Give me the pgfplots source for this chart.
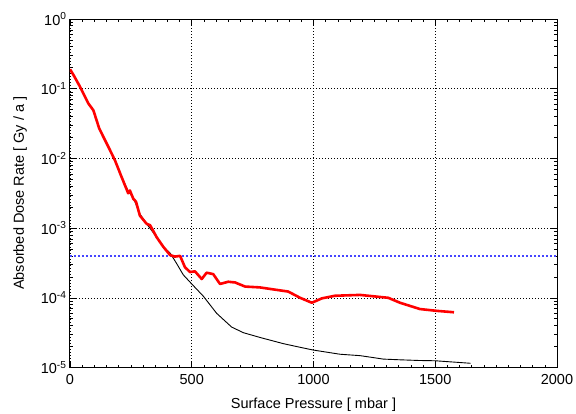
\documentclass[border=0pt]{standalone}
\usepackage{fontspec}
\setmainfont{Liberation Sans}
\usepackage{pgfplots}
\pgfplotsset{compat=1.18}

\begin{document}
\begin{tikzpicture}
\begin{axis}[
  scale only axis, width=487pt, height=348.5pt,
  ymode=log, xmin=0, xmax=2000, ymin=1e-5, ymax=1,
  xtick={0,500,1000,1500,2000}, minor x tick num=9,
  ytick={1e-5,1e-4,1e-3,1e-2,1e-1,1},
  tick align=inside, ticks=both,
  major tick length=6pt, minor tick length=3pt,
  grid=major, major grid style={black, line width=0.6pt, dash pattern=on 0.9pt off 2.1pt},
  axis line style={line width=1pt},
  every tick/.style={black, line width=0.6pt},
  tick label style={font=\fontsize{14.5}{16}\selectfont},
  xticklabel style={yshift=-3pt},
  /pgf/number format/assume math mode=true,
  /pgf/number format/set thousands separator={},
  yticklabel={\pgfmathparse{int(round(\tick/2.302585093))}10\textsuperscript{\pgfmathresult}},
  xlabel={Surface Pressure [ mbar ]},
  ylabel={Absorbed Dose Rate [ Gy / a ]},
  label style={font=\fontsize{14.5}{16}\selectfont},
  xlabel style={yshift=-7pt},
  ylabel style={yshift=7pt},
]
\addplot[draw={rgb,255:red,70;green,70;blue,255}, line width=1.4pt, dash pattern=on 2pt off 2pt] coordinates {(0,4e-4) (2000,4e-4)};
\addplot[black, line width=0.9pt] coordinates {
  (0,0.19) (14,0.158) (41,0.107) (75,0.0617) (96,0.049) (120,0.0269)
  (144,0.0182) (164,0.0132) (185,0.0093) (212,0.0054) (239,0.0034)
  (260,0.0027) (287,0.0016) (315,0.00115) (356,7.4e-4) (383,5.4e-4)
  (411,4.4e-4) (438,3.1e-4) (465,2.14e-4) (500,1.58e-4) (548,1.05e-4)
  (602,6.0e-5) (664,3.8e-5) (712,3.16e-5) (780,2.7e-5) (876,2.2e-5)
  (945,1.95e-5) (999,1.78e-5) (1109,1.55e-5) (1191,1.48e-5) (1232,1.41e-5)
  (1287,1.32e-5) (1355,1.29e-5) (1437,1.26e-5) (1499,1.25e-5) (1645,1.15e-5)};
\addplot[red, line width=2.6pt, line join=round] coordinates {
  (0,0.19) (14,0.158) (41,0.107) (75,0.0617) (96,0.049) (120,0.0269)
  (144,0.0182) (164,0.0132) (185,0.0093) (212,0.0054) (239,0.00316)
  (246,0.00347) (260,0.00263) (271,0.0024) (287,0.00151) (315,0.00115)
  (329,0.0011) (356,7.4e-4) (383,5.4e-4) (411,4.1e-4) (431,3.9e-4)
  (452,4.0e-4) (472,2.75e-4) (493,2.34e-4) (513,2.4e-4) (541,1.86e-4)
  (561,2.29e-4) (588,2.19e-4) (616,1.58e-4) (650,1.7e-4) (678,1.66e-4)
  (719,1.45e-4) (780,1.41e-4) (835,1.32e-4) (896,1.23e-4) (945,1.0e-4)
  (993,8.5e-5) (1034,9.8e-5) (1088,1.07e-4) (1191,1.1e-4) (1307,1.0e-4)
  (1355,8.5e-5) (1437,6.9e-5) (1506,6.5e-5) (1577,6.2e-5)};
\end{axis}
\pgfresetboundingbox
\path (current axis.south west) ++(-70pt,-45.5pt) coordinate (bbA);
\path (current axis.north east) ++(19pt,19pt) coordinate (bbB);
\useasboundingbox (bbA) rectangle (bbB);
\end{tikzpicture}
\end{document}
